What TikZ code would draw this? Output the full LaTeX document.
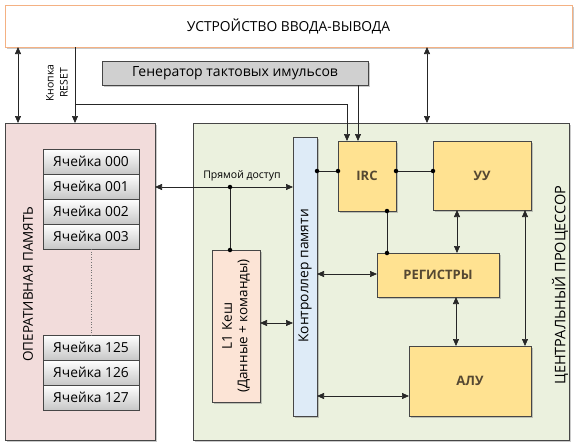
\documentclass[tikz,border=0pt]{standalone}
\usepackage{fontspec}
\setmainfont{Open Sans}
\usetikzlibrary{arrows.meta,shadows,calc}
\definecolor{memfill}{RGB}{242,220,219}
\definecolor{cpufill}{RGB}{235,241,222}
\definecolor{yel}{RGB}{255,226,145}
\definecolor{ctrlfill}{RGB}{222,235,247}
\definecolor{l1fill}{RGB}{252,228,214}
\definecolor{genfill}{RGB}{208,208,208}
\definecolor{ioborder}{RGB}{244,177,131}
\definecolor{boxline}{RGB}{70,70,70}
\definecolor{ytext}{RGB}{85,72,50}
\begin{document}
\begin{tikzpicture}[x=1pt,y=-1pt,
  >={Triangle[length=7pt,width=6pt]},
  base/.style={rectangle,inner sep=0pt,outer sep=0pt,draw=boxline,line width=0.6pt},
  shad/.style={drop shadow={shadow xshift=2pt,shadow yshift=-2pt,opacity=0.35,fill=black!60}},
  panel/.style={base,shad},
  cell/.style={base,minimum width=96pt,minimum height=25pt,top color=white,middle color=white,bottom color=black!22,font=\fontsize{13.8}{15}\selectfont},
  ybox/.style={base,shad,fill=yel,font=\fontsize{13}{14}\selectfont\bfseries,text=ytext},
  conn/.style={line width=0.7pt,draw=black!85},
  dot/.style={circle,fill=black,inner sep=0pt,minimum size=4.5pt}
]
\useasboundingbox (0,0) rectangle (579,447);
% panels
\node[panel,fill=memfill,minimum width=150pt,minimum height=317pt] (mem) at (80,281.5) {};
\node[panel,fill=cpufill,minimum width=376pt,minimum height=317pt] (cpu) at (381,281.5) {};
\node[panel,draw=ioborder,fill=white,minimum width=567pt,minimum height=42pt,font=\fontsize{13.8}{15}\selectfont] (io) at (288.5,26) {УСТРОЙСТВО ВВОДА-ВЫВОДА};
\node[panel,fill=genfill,minimum width=266pt,minimum height=24pt,font=\fontsize{14}{15}\selectfont] (gen) at (235,73) {Генератор тактовых имульсов};
% labels
\node[rotate=90,font=\fontsize{13.5}{15}\selectfont] (memlbl) at (28,284) {ОПЕРАТИВНАЯ ПАМЯТЬ};
\node[rotate=90,font=\fontsize{14.5}{15}\selectfont] (cpulbl) at (560,285) {ЦЕНТРАЛЬНЫЙ ПРОЦЕССОР};
\node[rotate=90,align=center,font=\fontsize{10.5}{14}\selectfont] (rstlbl) at (57,83) {Кнопка\\RESET};
% cells
\node[cell] (c000) at (91,161.5) {Ячейка 000};
\node[cell] (c001) at (91,186.5) {Ячейка 001};
\node[cell] (c002) at (91,211.5) {Ячейка 002};
\node[cell] (c003) at (91,236.5) {Ячейка 003};
\node[cell] (c125) at (91,347.5) {Ячейка 125};
\node[cell] (c126) at (91,372.5) {Ячейка 126};
\node[cell] (c127) at (91,397.5) {Ячейка 127};
\draw[black!55,dotted,line width=0.6pt] (c003.south) -- (c125.north);
% cpu internals
\node[panel,fill=l1fill,minimum width=48pt,minimum height=152pt] (l1) at (236,326) {};
\node[rotate=90,align=center,font=\fontsize{13.5}{15.5}\selectfont] (l1t) at (l1.center) {L1 Кеш\\(Данные + команды)};
\node[panel,fill=ctrlfill,minimum width=24pt,minimum height=279pt] (ctrl) at (305,276.5) {};
\node[rotate=90,font=\fontsize{13.8}{15}\selectfont] (ctrlt) at (305,276) {Контроллер памяти};
\node[ybox,minimum width=58pt,minimum height=70pt] (irc) at (367,176) {IRC};
\node[ybox,minimum width=98pt,minimum height=69pt] (uu) at (482,175.5) {УУ};
\node[ybox,minimum width=122pt,minimum height=44pt] (reg) at (438,275) {РЕГИСТРЫ};
\node[ybox,minimum width=122pt,minimum height=70pt] (alu) at (470,381) {АЛУ};
% external connectors
\draw[conn,<->] (io.south -| 18,0) -- (mem.north -| 18,0);
\draw[conn,<->] (io.south -| 427,0) -- (cpu.north -| 427,0);
\draw[conn,->] (io.south -| 75,0) -- (mem.north -| 75,0);
\coordinate (rstbr) at (75,104);
\draw[conn,->] (rstbr) -- (rstbr -| 347,0) -- (irc.north -| 347,0);
\draw[conn,->] (gen.south -| 358,0) -- (irc.north -| 358,0);
% direct access
\draw[conn,<->] (mem.east |- 0,187) -- (ctrl.west |- 0,187);
\node[font=\fontsize{10.5}{11}\selectfont,inner sep=1pt] (pdlbl) at (242,176) {Прямой доступ};
\node[dot] (d1) at (230,187) {};
\node[dot] (d2) at (l1.north -| d1) {};
\draw[conn] (d1) -- (d2);
\draw[conn,<->] (l1.east |- 0,323) -- (ctrl.west |- 0,323);
% internal
\node[dot] (d3) at (ctrl.east |- 0,171) {};
\node[dot] (d4) at (irc.west |- 0,171) {};
\node[dot] (d5) at (irc.east |- 0,171) {};
\node[dot] (d6) at (uu.west |- 0,171) {};
\node[dot] (d7) at (irc.south -| 387,0) {};
\node[dot] (d8) at (reg.north -| 387,0) {};
\draw[conn] (d3) -- (d4);
\draw[conn] (d5) -- (d6);
\draw[conn] (d7) -- (d8);
\draw[conn,<->] (uu.south -| 457,0) -- (reg.north -| 457,0);
\draw[conn,<->] (uu.south -| 525,0) -- (alu.north -| 525,0);
\draw[conn,<->] (ctrl.east |- 0,274) -- (reg.west |- 0,274);
\draw[conn,<->] (reg.south -| 456,0) -- (alu.north -| 456,0);
\draw[conn,<->] (ctrl.east |- 0,396) -- (alu.west |- 0,396);
\end{tikzpicture}
\end{document}
